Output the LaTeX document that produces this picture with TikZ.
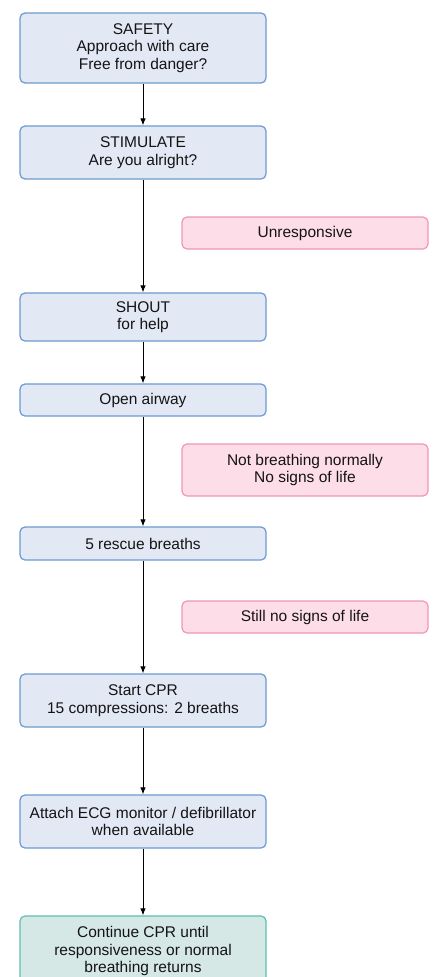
\documentclass[tikz,border=0pt]{standalone}
\usepackage{fontspec}
\setmainfont{Liberation Sans}
\usepackage{tikz}
\usetikzlibrary{arrows.meta}

\definecolor{stepfill}{HTML}{E3E8F5}
\definecolor{stepline}{HTML}{6C9AD0}
\definecolor{notefill}{HTML}{FDDDE8}
\definecolor{noteline}{HTML}{F095B8}
\definecolor{endfill}{HTML}{D5E8E6}
\definecolor{endline}{HTML}{5BBFB5}

\begin{document}
\begin{tikzpicture}[x=1pt,y=-1pt,
		box/.style={rounded corners=5pt, line width=1.2pt, minimum width=246pt, inner sep=2pt, align=center, text=black!92, font=\fontsize{15.5}{17.5}\selectfont},
		stepbox/.style={box, draw=stepline, fill=stepfill},
		notebox/.style={box, draw=noteline, fill=notefill},
		endbox/.style={box, draw=endline, fill=endfill},
		flow/.style={-{Latex[length=7pt,width=5.5pt]}, line width=1pt}]
			\useasboundingbox (0,0) rectangle (433,977);
			\node[stepbox, minimum height=70pt] (safety) at (143,48) {SAFETY\\Approach with care\\Free from danger?};
			\node[stepbox, minimum height=53pt] (stimulate) at (143,152.5) {STIMULATE\\Are you alright?};
			\node[notebox, minimum height=32pt] (unresp) at (305,233) {Unresponsive};
			\node[stepbox, minimum height=48pt] (shout) at (143,317) {SHOUT\\for help};
			\node[stepbox, minimum height=32pt] (airway) at (143,400) {Open airway};
			\node[notebox, minimum height=52pt] (nobreath) at (305,470) {Not breathing normally\\No signs of life};
			\node[stepbox, minimum height=33pt] (rescue) at (143,543.5) {5 rescue breaths};
			\node[notebox, minimum height=32pt] (nolife) at (305,617) {Still no signs of life};
			\node[stepbox, minimum height=53pt] (cpr) at (143,700.5) {Start CPR\\15 compressions: 2 breaths};
			\node[stepbox, minimum height=53pt] (ecg) at (143,821.5) {Attach ECG monitor / defibrillator\\when available};
			\node[endbox, minimum height=70pt] (continue) at (143,951) {Continue CPR until\\responsiveness or normal\\breathing returns};
			\draw[flow] (safety) -- (stimulate);
			\draw[flow] (stimulate) -- (shout);
			\draw[flow] (shout) -- (airway);
			\draw[flow] (airway) -- (rescue);
			\draw[flow] (rescue) -- (cpr);
			\draw[flow] (cpr) -- (ecg);
			\draw[flow] (ecg) -- (continue);
		\end{tikzpicture}
\end{document}
